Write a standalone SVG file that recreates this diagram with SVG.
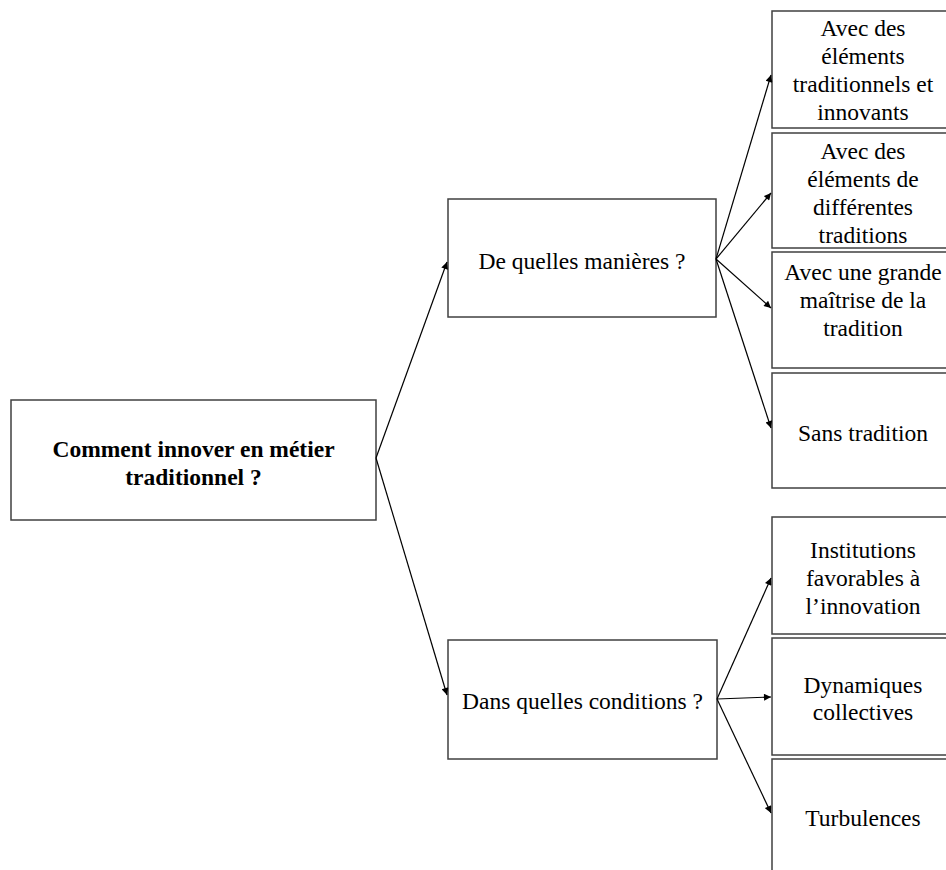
<svg xmlns="http://www.w3.org/2000/svg" width="946" height="870" viewBox="0 0 946 870">
<style>
.box{fill:#fff;stroke:#404040;stroke-width:1.5}
.t{font-family:"Liberation Serif","Times New Roman",serif;font-size:23.5px;fill:#000;text-anchor:middle}
.b{font-weight:bold}
.c{stroke:#000;stroke-width:1.2;fill:none;marker-end:url(#ah)}
</style>
<defs>
<marker id="ah" viewBox="0 0 10 10" refX="10" refY="5" markerWidth="9" markerHeight="7" markerUnits="userSpaceOnUse" orient="auto">
<path d="M0,0 L10,5 L0,10 z" fill="#000"/>
</marker>
</defs>
<rect width="946" height="870" fill="#fff"/>
<g id="root">
<rect class="box" x="11" y="400" width="365" height="120"/>
<text class="t b" x="193.5" y="457">Comment innover en métier</text>
<text class="t b" x="193.5" y="485">traditionnel ?</text>
</g>
<g id="manieres">
<rect class="box" x="448" y="199" width="268" height="118"/>
<text class="t" x="582" y="269">De quelles manières ?</text>
</g>
<g id="conditions">
<rect class="box" x="448" y="640" width="269" height="119"/>
<text class="t" x="582.5" y="709">Dans quelles conditions ?</text>
</g>
<g id="m1">
<rect class="box" x="772" y="11" width="190" height="117"/>
<text class="t" x="863" y="36">Avec des</text>
<text class="t" x="863" y="64">éléments</text>
<text class="t" x="863" y="92">traditionnels et</text>
<text class="t" x="863" y="120">innovants</text>
</g>
<g id="m2">
<rect class="box" x="772" y="133" width="190" height="115"/>
<text class="t" x="863" y="159">Avec des</text>
<text class="t" x="863" y="187">éléments de</text>
<text class="t" x="863" y="215">différentes</text>
<text class="t" x="863" y="243">traditions</text>
</g>
<g id="m3">
<rect class="box" x="772" y="252" width="190" height="116"/>
<text class="t" x="863" y="280">Avec une grande</text>
<text class="t" x="863" y="308">maîtrise de la</text>
<text class="t" x="863" y="336">tradition</text>
</g>
<g id="m4">
<rect class="box" x="772" y="373" width="190" height="115"/>
<text class="t" x="863" y="441">Sans tradition</text>
</g>
<g id="c1">
<rect class="box" x="772" y="517" width="190" height="117"/>
<text class="t" x="863" y="558">Institutions</text>
<text class="t" x="863" y="586">favorables à</text>
<text class="t" x="863" y="614">l’innovation</text>
</g>
<g id="c2">
<rect class="box" x="772" y="638" width="190" height="117"/>
<text class="t" x="863" y="693">Dynamiques</text>
<text class="t" x="863" y="720">collectives</text>
</g>
<g id="c3">
<rect class="box" x="772" y="759" width="190" height="130"/>
<text class="t" x="863" y="826">Turbulences</text>
</g>
<g id="connectors">
<line class="c" x1="376" y1="458" x2="447" y2="262"/>
<line class="c" x1="376" y1="458" x2="447" y2="695"/>
<line class="c" x1="716" y1="259" x2="771" y2="75"/>
<line class="c" x1="716" y1="259" x2="771" y2="193"/>
<line class="c" x1="716" y1="259" x2="771" y2="308"/>
<line class="c" x1="716" y1="259" x2="771" y2="428"/>
<line class="c" x1="717" y1="699" x2="771" y2="578"/>
<line class="c" x1="717" y1="699" x2="771" y2="697"/>
<line class="c" x1="717" y1="699" x2="771" y2="813"/>
</g>
</svg>
